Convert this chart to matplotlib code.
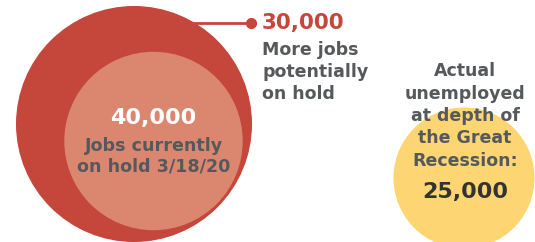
import matplotlib
matplotlib.use("Agg")
import matplotlib.pyplot as plt
from matplotlib.patches import Circle
import numpy as np

# Data
labels = ["Jobs currently\non hold 3/18/20", "More jobs\npotentially\non hold",
          "Actual\nunemployed\nat depth of\nthe Great\nRecession:"]
values = [40000, 30000, 25000]

plt.rcParams['font.family'] = ['DejaVu Sans']

W, H = 535, 242
fig = plt.figure(figsize=(W / 100, H / 100), dpi=100)
ax = fig.add_axes([0, 0, 1, 1])
ax.set_xlim(0, W)
ax.set_ylim(H, 0)
ax.set_aspect('equal')
ax.axis('off')

k = 118 / np.sqrt(values[0] + values[1])
r_outer = k * np.sqrt(values[0] + values[1])
r_inner = k * np.sqrt(values[0])
r_yel = k * np.sqrt(values[2])

red = '#C5463A'
salmon = '#DB8770'
yellow = '#FDD673'
gray = '#55595C'

# connector line + dot
ax.plot([190, 251], [23, 23], color=red, lw=2, solid_capstyle='butt', zorder=1)
ax.plot([251], [23], 'o', color=red, ms=7, zorder=1)

ax.add_patch(Circle((134, 124), r_outer, color=red, zorder=2, lw=0))
ax.add_patch(Circle((153.5, 141), r_inner, color=salmon, zorder=3, lw=0))
ax.add_patch(Circle((464, 178), r_yel, color=yellow, zorder=2, lw=0))

ax.text(153, 118, f"{values[0]:,}", color='white', fontsize=16, fontweight='bold',
        ha='center', va='center', zorder=4)
ax.text(153.5, 156, labels[0], color=gray, fontsize=12.6, fontweight='bold',
        ha='center', va='center', linespacing=1.15, zorder=4)

ax.text(262, 23, f"{values[1]:,}", color=red, fontsize=15.5, fontweight='bold',
        ha='left', va='center', zorder=4)
ax.text(262, 72, labels[1], color=gray, fontsize=12.5, fontweight='bold',
        ha='left', va='center', linespacing=1.29, zorder=4)

ax.text(465, 116, labels[2], color=gray, fontsize=12.5, fontweight='bold',
        ha='center', va='center', linespacing=1.31, zorder=4)
ax.text(465, 192, f"{values[2]:,}", color='#333333', fontsize=16, fontweight='bold',
        ha='center', va='center', zorder=4)

fig.savefig('out.png', dpi=100, facecolor='white')
